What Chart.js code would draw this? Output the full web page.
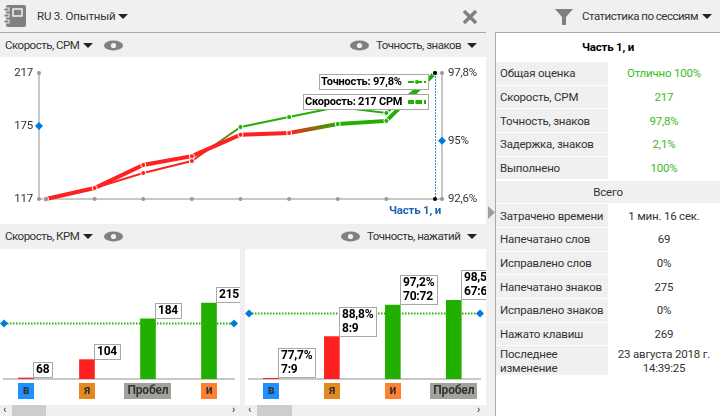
<!DOCTYPE html>
<html>
<head>
<meta charset="utf-8">
<script src="https://cdn.jsdelivr.net/npm/chart.js@4"></script>
<style>
  html, body { margin: 0; padding: 0; width: 720px; height: 416px; overflow: hidden; background: #f0f0f0; }
  body { position: relative; font: 11.5px Roboto, sans-serif; letter-spacing: -0.2px; color: #333; }
  .abs, canvas { position: absolute; }
  canvas { background: #fff; }
  .txt { position: absolute; white-space: nowrap; line-height: 16px; }
  .tight { letter-spacing: -0.5px; }
  .panel { position: absolute; background: #fff; }
  .caret { position: absolute; width: 0; height: 0; border-left: 5px solid transparent; border-right: 5px solid transparent; border-top: 5px solid #222; }
  .eye { position: absolute; }
  .row { position: absolute; left: 496px; width: 224px; }
  .row .lab { position: absolute; left: 0; top: 0; bottom: 1px; width: 112px; background: #f0f0f0; box-sizing: border-box; padding-left: 4px; display: flex; align-items: center; line-height: 14px; white-space: nowrap; }
  .row .val { position: absolute; left: 112px; width: 112px; top: 0; bottom: 1px; text-align: center; display: flex; align-items: center; justify-content: center; line-height: 14px; white-space: nowrap; }
  .good { color: #3cb81e; }
  .scroll { position: absolute; top: 405px; height: 11px; background: #cdcdcd; }
  .arrow { position: absolute; top: 404px; font-size: 11px; line-height: 12px; color: #555; font-weight: bold; }
</style>
</head>
<body>

<!-- header -->
<svg class="abs" style="left:4px;top:4px" width="23" height="24">
  <rect x="2" y="1" width="20" height="22" rx="2" fill="#808080"/>
  <rect x="0" y="4" width="5" height="3" fill="#808080" stroke="#f0f0f0"/>
  <rect x="0" y="10" width="5" height="3" fill="#808080" stroke="#f0f0f0"/>
  <rect x="0" y="16" width="5" height="3" fill="#808080" stroke="#f0f0f0"/>
  <rect x="9" y="5" width="9" height="7" fill="none" stroke="#f0f0f0" stroke-width="1.5"/>
</svg>
<div class="txt" style="left:37px;top:8px">RU 3. Опытный</div>
<div class="caret" style="left:118px;top:14px"></div>
<svg class="abs" style="left:463px;top:10px" width="14" height="14">
  <path d="M1 1 L13 13 M13 1 L1 13" stroke="#808080" stroke-width="3.4"/>
</svg>
<svg class="abs" style="left:555px;top:9px" width="18" height="17">
  <path d="M0 0 H18 L11 8 V16 H7 V8 Z" fill="#808080"/>
</svg>
<div class="txt tight" style="left:582px;top:8px">Статистика по сессиям</div>
<div class="caret" style="left:702px;top:14px"></div>
<div class="abs" style="left:0;top:32px;width:486px;height:1px;background:#a8a8a8"></div>

<!-- chart headers -->
<div class="txt tight" style="left:5px;top:37px">Скорость, CPM</div>
<div class="caret" style="left:83px;top:43px"></div>
<svg class="eye" style="left:104px;top:40px" width="19" height="11"><ellipse cx="9.5" cy="5.5" rx="9.5" ry="5" fill="#808080"/><circle cx="9.5" cy="5.5" r="2.6" fill="#f0f0f0"/></svg>
<svg class="eye" style="left:350px;top:40px" width="19" height="11"><ellipse cx="9.5" cy="5.5" rx="9.5" ry="5" fill="#808080"/><circle cx="9.5" cy="5.5" r="2.6" fill="#f0f0f0"/></svg>
<div class="txt tight" style="left:376px;top:37px">Точность, знаков</div>
<div class="caret" style="left:467px;top:43px"></div>

<div class="txt tight" style="left:5px;top:228px">Скорость, КРМ</div>
<div class="caret" style="left:83px;top:234px"></div>
<svg class="eye" style="left:104px;top:231px" width="19" height="11"><ellipse cx="9.5" cy="5.5" rx="9.5" ry="5" fill="#808080"/><circle cx="9.5" cy="5.5" r="2.6" fill="#f0f0f0"/></svg>
<svg class="eye" style="left:341px;top:231px" width="19" height="11"><ellipse cx="9.5" cy="5.5" rx="9.5" ry="5" fill="#808080"/><circle cx="9.5" cy="5.5" r="2.6" fill="#f0f0f0"/></svg>
<div class="txt tight" style="left:367px;top:228px">Точность, нажатий</div>
<div class="caret" style="left:467px;top:234px"></div>

<!-- charts -->
<canvas id="lineChart" width="486" height="167" style="left:0;top:57px"></canvas>
<canvas id="speedBars" width="240" height="156" style="left:0;top:249px"></canvas>
<canvas id="accuracyBars" width="241" height="156" style="left:245px;top:249px"></canvas>

<!-- scrollbars -->
<div class="scroll" style="left:12px;width:34px"></div>
<div class="arrow" style="left:3px">‹</div>
<div class="arrow" style="left:232px">›</div>
<div class="scroll" style="left:257px;width:35px"></div>
<div class="arrow" style="left:248px">‹</div>
<div class="arrow" style="left:477px">›</div>

<!-- splitter arrow -->
<svg class="abs" style="left:488px;top:206px" width="7" height="13"><path d="M0 0 L7 6.5 L0 13 Z" fill="#a0a0a0"/></svg>

<!-- stats table -->
<div class="panel" id="stats" style="left:495px;top:32px;width:225px;height:384px;border-left:1px solid #a8a8a8;border-top:1px solid #a8a8a8;box-sizing:border-box"></div>
<div id="rows"></div>

<script>
// top chart
var sessionLabels = ["", "", "", "", "", "", "", "", "Часть 1, и"];
var speedValues = [117, 125.7, 144, 151, 168, 169.4, 176.5, 179, 217];
var accuracyValues = [92.6, 93.05, 93.67, 94.17, 95.57, 95.98, 96.4, 96.15, 97.8];
var speedTicks = [117, 175, 217];
var accuracyTicks = [92.6, 95, 97.8];
var speedTarget = 175;
var accuracyTarget = 95;

// bottom left
var speedKeys = ["в", "я", "Пробел", "и"];
var speedKeyValues = [68, 104, 184, 215];

// bottom right
var accuracyKeys = ["в", "я", "и", "Пробел"];
var accuracyKeyValues = [77.7, 88.8, 97.2, 98.5];
var accuracyKeyCounts = ["7:9", "8:9", "70:72", "67:68"];

// key colours
var keyColors = { "в": "#1e90ff", "я": "#e5891f", "Пробел": "#a2a29c", "и": "#ff8030" };

// table
var statLabels = ["Общая оценка", "Скорость, CPM", "Точность, знаков", "Задержка, знаков", "Выполнено"];
var statValues = ["Отлично 100%", "217", "97,8%", "2,1%", "100%"];
var totalLabels = ["Затрачено времени", "Напечатано слов", "Исправлено слов", "Напечатано знаков", "Исправлено знаков", "Нажато клавиш", "Последнее<br>изменение"];
var totalValues = ["1 мин. 16 сек.", "69", "0%", "275", "0%", "269", "23 августа 2018 г.<br>14:39:25"];

var GREEN = "#22b000";
var RED = "#ff2020";
var BLUE = "#0078e0";
var AXIS = "#c8c8c8";
var FONT = 'Roboto, sans-serif';

Chart.defaults.font.family = FONT;
Chart.defaults.font.size = 11.5;
Chart.defaults.color = "#333";

function fmt(v) {
  return String(v).replace(".", ",");
}

function dot(ctx, x, y, r, color) {
  ctx.fillStyle = color;
  ctx.beginPath();
  ctx.arc(x, y, r, 0, Math.PI * 2);
  ctx.fill();
}

function diamond(ctx, x, y) {
  ctx.fillStyle = BLUE;
  ctx.beginPath();
  ctx.moveTo(x - 4, y);
  ctx.lineTo(x, y - 4);
  ctx.lineTo(x + 4, y);
  ctx.lineTo(x, y + 4);
  ctx.closePath();
  ctx.fill();
}

function points(values) {
  return values.map(function (v, i) { return { x: i, y: v }; });
}

// red under the target, green from it
function segmentColor(chart, values, target) {
  return function (c) {
    var a = values[c.p0DataIndex] >= target ? GREEN : RED;
    var b = values[c.p1DataIndex] >= target ? GREEN : RED;
    if (a == b) return a;
    var g = chart.getContext("2d").createLinearGradient(c.p0.x, 0, c.p1.x, 0);
    g.addColorStop(0, a);
    g.addColorStop(1, b);
    return g;
  };
}

function legendBox(ctx, text, right, top, height, thick) {
  ctx.font = "bold 11px " + FONT;
  var w = Math.round(ctx.measureText(text).width) + 29;
  ctx.fillStyle = "#fff";
  ctx.strokeStyle = "#a8a8a8";
  ctx.lineWidth = 1;
  ctx.fillRect(right - w, top, w, height);
  ctx.strokeRect(right - w + 0.5, top + 0.5, w - 1, height - 1);
  ctx.fillStyle = "#000";
  ctx.textAlign = "left";
  ctx.textBaseline = "middle";
  ctx.fillText(text, right - w + 2, top + height / 2);
  ctx.strokeStyle = GREEN;
  ctx.lineWidth = thick;
  ctx.setLineDash([6, 2]);
  ctx.beginPath();
  ctx.moveTo(right - 21, top + height / 2);
  ctx.lineTo(right - 3, top + height / 2);
  ctx.stroke();
  ctx.setLineDash([]);
  dot(ctx, right - 12, top + height / 2, 2, GREEN);
}

var lineMarks = {
  id: "lineMarks",
  afterDatasetsDraw: function (chart) {
    var ctx = chart.ctx;
    var x = chart.scales.x, y = chart.scales.y, y2 = chart.scales.y2;
    var last = speedValues.length - 1;
    var lastX = Math.round(x.getPixelForValue(last));
    ctx.save();

    // grey dots on the axes
    sessionLabels.forEach(function (s, i) {
      if (i < last) dot(ctx, x.getPixelForValue(i), y.bottom, 2, "#999");
    });
    dot(ctx, x.left, y.bottom, 2, "#999");
    dot(ctx, x.left, y.top, 2, "#999");
    dot(ctx, x.right, y.bottom, 2, "#999");
    dot(ctx, x.right, y.top, 2, "#999");

    // current session
    ctx.strokeStyle = "#2a8ae8";
    ctx.lineWidth = 1;
    ctx.setLineDash([2, 1]);
    ctx.beginPath();
    ctx.moveTo(lastX + 0.5, y.top);
    ctx.lineTo(lastX + 0.5, y.bottom);
    ctx.stroke();
    ctx.setLineDash([]);
    dot(ctx, lastX, y.top, 2, "#000");
    dot(ctx, lastX, y.bottom, 2, "#000");

    diamond(ctx, x.left, y.getPixelForValue(speedTarget));
    diamond(ctx, x.right, y2.getPixelForValue(accuracyTarget));

    legendBox(ctx, "Точность: " + fmt(accuracyValues[last]) + "%", lastX - 6, y.top + 1, 16, 2);
    legendBox(ctx, "Скорость: " + speedValues[last] + " CPM", lastX - 6, y.top + 21, 16, 4);
    ctx.restore();
  }
};

new Chart(document.getElementById("lineChart"), {
  type: "line",
  data: {
    datasets: [
      {
        data: points(speedValues),
        yAxisID: "y",
        borderWidth: 4,
        pointRadius: 2.5,
        pointBorderWidth: 1,
        pointBorderColor: "#fff",
        pointBackgroundColor: function (c) { return speedValues[c.dataIndex] >= speedTarget ? GREEN : RED; },
        segment: { borderColor: function (c) { return segmentColor(document.getElementById("lineChart"), speedValues, speedTarget)(c); } },
        clip: false
      },
      {
        data: points(accuracyValues),
        yAxisID: "y2",
        borderWidth: 2,
        pointRadius: 2.5,
        pointBorderWidth: 1,
        pointBorderColor: "#fff",
        pointBackgroundColor: function (c) { return accuracyValues[c.dataIndex] >= accuracyTarget ? GREEN : RED; },
        segment: { borderColor: function (c) { return segmentColor(document.getElementById("lineChart"), accuracyValues, accuracyTarget)(c); } },
        clip: false
      }
    ]
  },
  options: {
    responsive: false,
    animation: false,
    layout: { padding: { top: 16 } },
    plugins: { legend: { display: false }, tooltip: { enabled: false } },
    scales: {
      x: {
        type: "linear",
        min: -0.144,
        max: 8.144,
        grid: { drawOnChartArea: false, drawTicks: false },
        border: { color: AXIS, width: 2 },
        afterBuildTicks: function (s) { s.ticks = [{ value: 8 }]; },
        afterFit: function (s) { s.height = 25; },
        ticks: {
          autoSkip: false,
          maxRotation: 0,
          padding: 5,
          labelOffset: -20,
          color: "#1f62b5",
          font: { weight: "bold", size: 11.5 },
          callback: function (v) { return sessionLabels[v]; }
        }
      },
      y: {
        min: 117,
        max: 217,
        grid: { drawOnChartArea: false, drawTicks: false },
        border: { color: AXIS, width: 2 },
        afterBuildTicks: function (s) { s.ticks = speedTicks.map(function (v) { return { value: v }; }); },
        afterFit: function (s) { s.width = 39; },
        ticks: { padding: 6, color: "#333" }
      },
      y2: {
        position: "right",
        min: 92.6,
        max: 97.8,
        grid: { drawOnChartArea: false, drawTicks: false },
        border: { color: AXIS, width: 2 },
        afterBuildTicks: function (s) { s.ticks = accuracyTicks.map(function (v) { return { value: v }; }); },
        afterFit: function (s) { s.width = 44; },
        ticks: { padding: 6, color: "#333", callback: function (v) { return fmt(v) + "%"; } }
      }
    }
  },
  plugins: [lineMarks]
});

// dotted target line, white value boxes and coloured key caps
function barMarks(keys, target, lines) {
  return {
    id: "barMarks",
    beforeDatasetsDraw: function (chart) {
      var ctx = chart.ctx, x = chart.scales.x, y = chart.scales.y;
      var py = y.getPixelForValue(target);
      ctx.save();
      ctx.strokeStyle = GREEN;
      ctx.lineWidth = 2;
      ctx.setLineDash([1.5, 1.5]);
      ctx.beginPath();
      ctx.moveTo(x.left, py);
      ctx.lineTo(x.right, py);
      ctx.stroke();
      ctx.restore();
    },
    afterDatasetsDraw: function (chart) {
      var ctx = chart.ctx, x = chart.scales.x, y = chart.scales.y;
      var py = y.getPixelForValue(target);
      ctx.save();
      diamond(ctx, x.left, py);
      diamond(ctx, x.right, py);
      ctx.font = "bold 12px " + FONT;
      ctx.textBaseline = "middle";
      chart.getDatasetMeta(0).data.forEach(function (bar, i) {
        var text = lines(i);
        var w = 0;
        text.forEach(function (t) { w = Math.max(w, ctx.measureText(t).width); });
        w = Math.ceil(w) + 6;
        var h = text.length * 14 + 2;
        var left = Math.round(bar.x + bar.width / 2);
        var top = Math.round(bar.y) - h;
        ctx.fillStyle = "#fff";
        ctx.fillRect(left, top, w, h);
        ctx.strokeStyle = "#a8a8a8";
        ctx.lineWidth = 1;
        ctx.strokeRect(left + 0.5, top + 0.5, w - 1, h - 1);
        ctx.fillStyle = "#000";
        ctx.textAlign = "left";
        text.forEach(function (t, k) { ctx.fillText(t, left + 3, top + 8 + k * 14); });

        // key cap under the bar
        var cap = keys[i];
        var capW = cap.length > 1 ? Math.ceil(ctx.measureText(cap).width) + 6 : 16;
        var cx = x.getPixelForValue(i);
        ctx.fillStyle = keyColors[cap];
        ctx.fillRect(Math.round(cx - capW / 2), y.bottom + 4, capW, 16);
        ctx.fillStyle = "#333";
        ctx.textAlign = "center";
        ctx.fillText(cap, cx, y.bottom + 12);
      });
      ctx.restore();
    }
  };
}

function barChart(id, keys, values, target, yMin, yMax, xMin, xMax, lines) {
  new Chart(document.getElementById(id), {
    type: "bar",
    data: {
      datasets: [{
        data: points(values),
        barThickness: 15,
        backgroundColor: function (c) { return values[c.dataIndex] >= target ? GREEN : RED; }
      }]
    },
    options: {
      responsive: false,
      animation: false,
      layout: { padding: { left: 4, right: 6 } },
      plugins: { legend: { display: false }, tooltip: { enabled: false } },
      scales: {
        x: {
          type: "linear",
          offset: false,
          min: xMin,
          max: xMax,
          grid: { drawOnChartArea: false, drawTicks: false, offset: false },
          border: { color: AXIS, width: 2 },
          afterFit: function (s) { s.height = 26; },
          ticks: { display: false }
        },
        y: { display: false, min: yMin, max: yMax }
      }
    },
    plugins: [barMarks(keys, target, lines)]
  });
}

barChart("speedBars", speedKeys, speedKeyValues, speedTarget, 66, 321, -0.36, 3.41, function (i) {
  return [String(speedKeyValues[i])];
});

barChart("accuracyBars", accuracyKeys, accuracyKeyValues, accuracyTarget, 77.5, 112.2, -0.36, 3.43, function (i) {
  return [fmt(accuracyKeyValues[i]) + "%", accuracyKeyCounts[i]];
});

// stats table
var rows = document.getElementById("rows");
var pitch = 23.7;
var firstRow = 62;

function addRow(index, label, value, cls, height) {
  var r = document.createElement("div");
  r.className = "row";
  r.style.top = (firstRow + index * pitch) + "px";
  r.style.height = (height || pitch) + "px";
  r.innerHTML = '<div class="lab">' + label + '</div><div class="val ' + cls + '">' + value + "</div>";
  rows.appendChild(r);
}

var title = document.createElement("div");
title.className = "txt";
title.style.cssText = "left:496px;width:224px;top:39px;text-align:center;font-weight:bold;color:#000";
title.textContent = "Часть 1, и";
rows.appendChild(title);

statLabels.forEach(function (s, i) { addRow(i, s, statValues[i], "good"); });

var total = document.createElement("div");
total.style.cssText = "position:absolute;left:496px;width:224px;top:" + (firstRow + 5 * pitch) + "px;height:" + (pitch - 1) + "px;line-height:" + (pitch - 1) + "px;background:#f0f0f0;text-align:center";
total.textContent = "Всего";
rows.appendChild(total);

totalLabels.forEach(function (s, i) {
  addRow(i + 6, s, totalValues[i], "", i == totalLabels.length - 1 ? 30 : pitch);
});
</script>
</body>
</html>
